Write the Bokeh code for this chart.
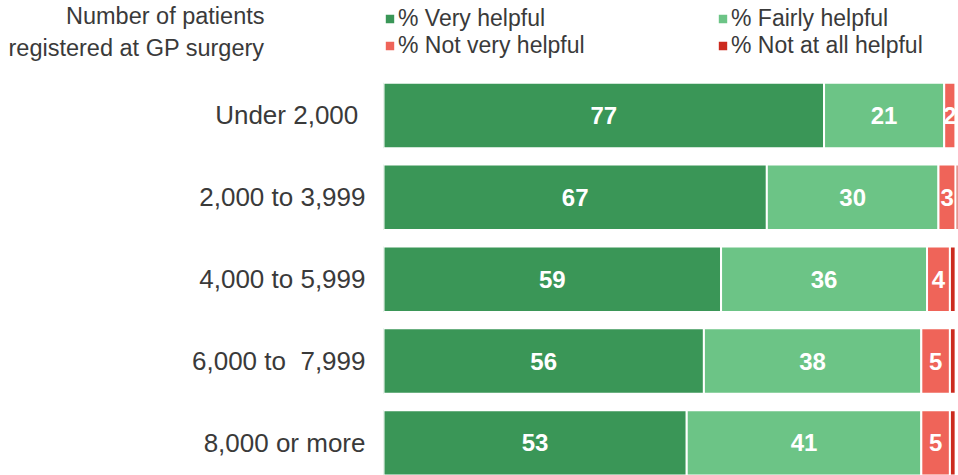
import numpy as np
from bokeh.plotting import figure
from bokeh.models import ColumnDataSource, Range1d, FixedTicker, Legend, LegendItem, LinearAxis
from bokeh.core.properties import value
from bokeh.embed import file_html
from bokeh.resources import INLINE

# ---- data ----
categories = ["Under 2,000\u00a0", "2,000 to 3,999", "4,000 to 5,999", "6,000 to \u00a07,999", "8,000 or more"]
very_helpful = [77, 67, 59, 56, 53]
fairly_helpful = [21, 30, 36, 38, 41]
not_very_helpful = [2, 3, 4, 5, 5]
not_at_all_helpful = [0, 1, 1, 1, 1]
series_names = ["% Very helpful", "% Fairly helpful", "% Not very helpful", "% Not at all helpful"]
title_text = "Number of patients\nregistered at GP surgery"

# ---- style ----
colors = ["#3a9657", "#6cc486", "#ef6459", "#cc2a1e"]
FONT = "Liberation Sans"
TEXT = "#3a3a3a"
TITLE_POS = -1.02   # vertical position of the axis title (in row units)

p = figure(width=958, height=475, output_backend="svg", toolbar_location=None,
           x_range=Range1d(0, 100.5), y_range=Range1d(4.397, -1.404),
           x_axis_location=None, min_border_left=383, min_border_right=0,
           min_border_top=0, min_border_bottom=0)
p.outline_line_color = None
p.grid.visible = False
p.background_fill_color = "white"
p.border_fill_color = "white"

ys = list(range(len(categories)))
series = [very_helpful, fairly_helpful, not_very_helpful, not_at_all_helpful]
left = np.zeros(len(categories))
renderers = []
for i, (name, vals, col) in enumerate(zip(series_names, series, colors)):
    vals = np.array(vals, dtype=float)
    src = ColumnDataSource(dict(y=ys, left=left, right=left + vals, mid=left + vals / 2,
                                label=[str(int(v)) for v in vals]))
    r = p.hbar(y="y", left="left", right="right", height=0.8, fill_color=col,
               line_color="white", line_width=2, source=src)
    renderers.append(r)
    if i < 3:
        p.text(x="mid", y="y", text="label", source=src, text_color="white",
               text_font=value(FONT), text_font_style="bold", text_font_size="24px",
               text_align="center", text_baseline="middle")
    left = left + vals


def style_axis(ax, size, standoff):
    ax.axis_line_color = None
    ax.major_tick_line_color = None
    ax.minor_tick_line_color = None
    ax.major_tick_out = 0
    ax.major_tick_in = 0
    ax.major_label_standoff = standoff
    ax.major_label_text_font = FONT
    ax.major_label_text_font_size = size
    ax.major_label_text_color = TEXT


yaxis = p.yaxis[0]
yaxis.ticker = FixedTicker(ticks=ys)
yaxis.major_label_overrides = {i: c for i, c in enumerate(categories)}
style_axis(yaxis, "26px", 18)

title_axis = LinearAxis(y_range_name="default", ticker=FixedTicker(ticks=[TITLE_POS]),
                        major_label_overrides={TITLE_POS: title_text})
style_axis(title_axis, "23.5px", -75)
p.add_layout(title_axis, "left")

legend = Legend(items=[LegendItem(label=n, renderers=[r]) for n, r in zip(series_names, renderers)],
                orientation="horizontal", ncols=2, location=(0, 416),
                glyph_width=13, glyph_height=13, label_standoff=2, label_width=318,
                label_height=20, spacing=-1, padding=0, margin=0,
                border_line_color=None, background_fill_alpha=0,
                label_text_font=FONT, label_text_font_size="23px", label_text_color=TEXT)
p.add_layout(legend)

open("out.html", "w").write(file_html(p, INLINE))
